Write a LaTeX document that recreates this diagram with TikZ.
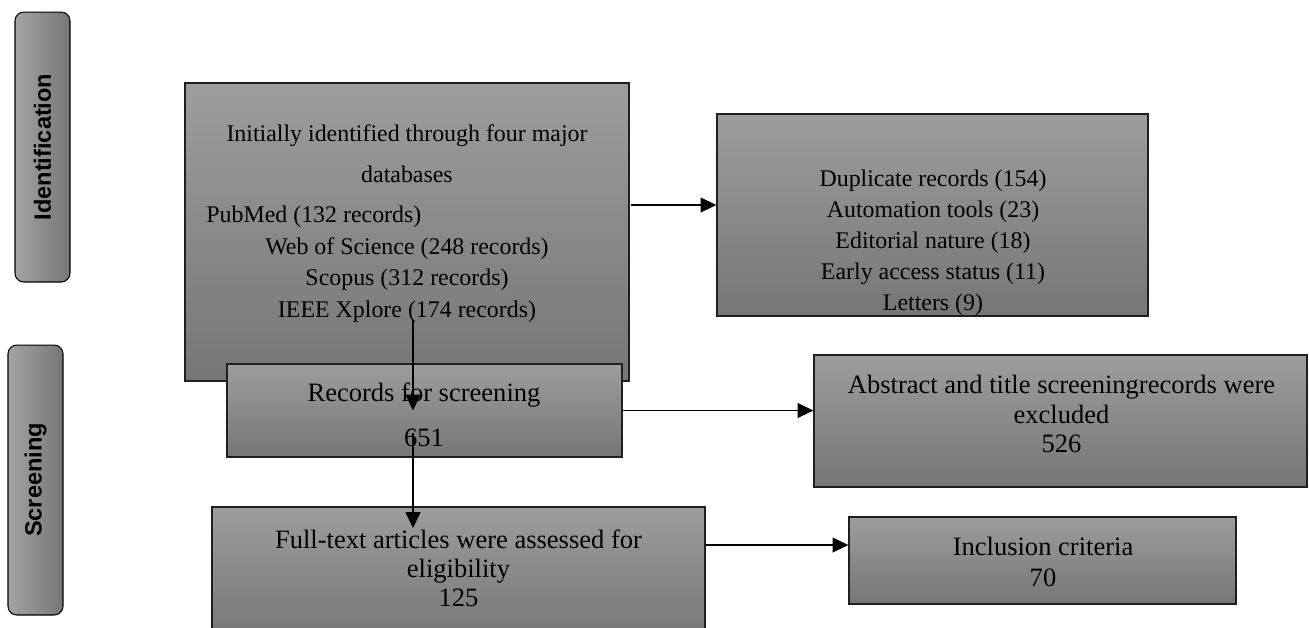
\documentclass[tikz,border=0pt]{standalone}
\usepackage{fontspec}
\setmainfont{Liberation Serif}
\setsansfont{Liberation Sans}
\usetikzlibrary{arrows.meta}

\definecolor{boxtop}{HTML}{9D9D9D}
\definecolor{boxbottom}{HTML}{767676}
\definecolor{tableft}{HTML}{A4A4A4}
\definecolor{tabright}{HTML}{767676}

\begin{document}
\begin{tikzpicture}[
    x=0.02cm, y=-0.02cm,
    box/.style={rectangle, draw=black!88, line width=0.8pt, top color=boxtop, bottom color=boxbottom, inner sep=0pt},
    stage/.style={rectangle, rounded corners=5pt, draw=black, line width=0.6pt, left color=tableft, right color=tabright,
        minimum width=1.1cm, minimum height=5.4cm, inner sep=0pt},
    stage text/.style={rotate=90, font=\sffamily\bfseries\fontsize{13.4}{16}\selectfont},
    small text/.style={align=center, inner sep=0pt, font=\fontsize{13.6}{17.9}\selectfont},
    big text/.style={align=center, inner sep=0pt, font=\fontsize{15.1}{#1}\selectfont},
    arrow/.style={line width=0.6pt, -{Triangle[length=9pt, width=8.5pt]}}
]
\useasboundingbox (0,0) rectangle (1309,627);

% Stage labels
\node[stage] (ident) at (42.5,147) {};
\node[stage text] (identT) at (ident) {Identification};
\node[stage] (screen) at (35.5,480) {};
\node[stage text] (screenT) at (screen) {Screening};

% Identification
\node[box, minimum width=8.88cm, minimum height=5.96cm] (init) at (407,232) {};
\node[small text, font=\fontsize{13.6}{23.5}\selectfont] (initT) at (407,154) {Initially identified through four major\\databases};
\node[small text, anchor=west] (pub) at (206,217) {PubMed (132 records)};
\node[small text] (dbs) at (407,280) {Web of Science (248 records)\\Scopus (312 records)\\IEEE Xplore (174 records)};

\node[box, minimum width=8.62cm, minimum height=4.04cm] (dup) at (932.5,215) {};
\node[small text, font=\fontsize{13.6}{17.6}\selectfont] (dupT) at (933,243) {Duplicate records (154)\\Automation tools (23)\\Editorial nature (18)\\Early access status (11)\\Letters (9)};

% Screening
\node[box, minimum width=7.9cm, minimum height=1.86cm] (rec) at (424.5,410.5) {};
\node[big text=25.5] (recT) at (424,415) {Records for screening\\651};

\node[box, minimum width=9.86cm, minimum height=2.64cm] (abs) at (1060.5,421) {};
\node[big text=16.7] (absT) at (1061.5,414) {Abstract and title screeningrecords were\\excluded\\526};

\node[box, minimum width=9.86cm, minimum height=2.66cm] (full) at (458.5,573.5) {};
\node[big text=16.4] (fullT) at (458.5,568) {Full-text articles were assessed for\\eligibility\\125};

\node[box, minimum width=7.74cm, minimum height=1.74cm] (incl) at (1042.5,560.5) {};
\node[big text=18] (inclT) at (1043,562) {Inclusion criteria\\70};

% Connections
\coordinate (down1) at (413,320);
\coordinate (down2) at (413,433);
\coordinate (down2end) at (413,528);
\coordinate (side1) at (631,205);
\coordinate (side3) at (705,545);

\draw[arrow] (side1) -- (side1 -| dup.west);
\draw[arrow] (rec.east) -- (rec.east -| abs.west);
\draw[arrow] (side3) -- (side3 -| incl.west);
\draw[arrow] (down1) -- (down1 |- rec);
\draw[arrow] (down2) -- (down2end);

\end{tikzpicture}
\end{document}
